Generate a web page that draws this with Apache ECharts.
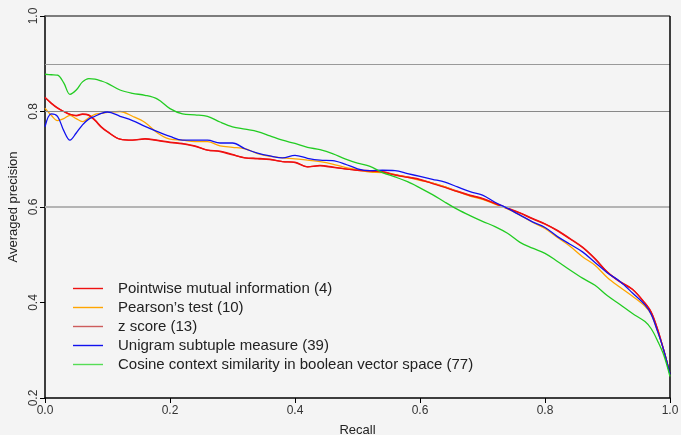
<!DOCTYPE html>
<html>
<head>
<meta charset="utf-8">
<script src="https://cdn.jsdelivr.net/npm/echarts@6/dist/echarts.min.js"></script>
<style>
html,body{margin:0;padding:0;background:#f4f4f4;}
#chart{width:681px;height:435px;}
</style>
</head>
<body>
<div id="chart"></div>
<script>
var recall = [0,0.01,0.02,0.03,0.04,0.05,0.06,0.07,0.08,0.09,0.10,
  0.12,0.14,0.16,0.18,0.20,0.22,0.24,0.26,0.28,0.30,0.32,0.34,0.36,0.38,0.40,
  0.42,0.44,0.46,0.48,0.50,0.52,0.54,0.56,0.58,0.60,0.62,0.64,0.66,0.68,0.70,
  0.72,0.74,0.76,0.78,0.80,0.82,0.84,0.86,0.88,0.90,0.92,0.94,0.96,0.97,0.98,0.99,1.0];

var pmi = [0.830,0.818,0.808,0.800,0.794,0.792,0.795,0.793,0.782,0.768,0.758,
  0.742,0.740,0.743,0.740,0.736,0.733,0.728,0.719,0.717,0.710,0.703,0.702,0.700,0.695,0.694,
  0.684,0.687,0.684,0.680,0.677,0.676,0.674,0.668,0.663,0.658,0.650,0.642,0.633,0.625,0.618,
  0.608,0.598,0.588,0.576,0.565,0.551,0.534,0.516,0.492,0.464,0.444,0.428,0.399,0.380,0.345,0.300,0.250];

var pearson = [0.807,0.792,0.781,0.785,0.792,0.785,0.779,0.787,0.794,0.796,0.798,
  0.800,0.790,0.777,0.755,0.742,0.740,0.737,0.737,0.728,0.725,0.722,0.712,0.706,0.703,0.701,
  0.698,0.695,0.690,0.683,0.678,0.673,0.672,0.668,0.662,0.656,0.650,0.642,0.632,0.623,0.616,
  0.606,0.596,0.583,0.568,0.555,0.536,0.518,0.496,0.478,0.452,0.432,0.413,0.392,0.375,0.340,0.300,0.250];

var zscore = [0.829,0.817,0.807,0.800,0.794,0.791,0.794,0.792,0.781,0.767,0.757,
  0.742,0.740,0.742,0.739,0.735,0.732,0.727,0.719,0.716,0.709,0.703,0.701,0.699,0.695,0.693,
  0.684,0.686,0.683,0.680,0.677,0.675,0.673,0.667,0.662,0.657,0.649,0.641,0.632,0.624,0.617,
  0.607,0.597,0.587,0.575,0.564,0.550,0.533,0.515,0.491,0.463,0.443,0.427,0.398,0.379,0.344,0.300,0.250];

var unigram = [0.768,0.795,0.790,0.760,0.740,0.755,0.772,0.784,0.790,0.796,0.799,
  0.790,0.781,0.769,0.758,0.748,0.740,0.740,0.740,0.734,0.734,0.722,0.713,0.707,0.703,0.708,
  0.702,0.698,0.697,0.690,0.680,0.676,0.677,0.676,0.670,0.664,0.658,0.652,0.642,0.632,0.625,
  0.610,0.597,0.583,0.569,0.557,0.538,0.522,0.506,0.484,0.462,0.444,0.420,0.395,0.375,0.340,0.300,0.250];

var cosine = [0.878,0.877,0.876,0.860,0.836,0.845,0.862,0.869,0.868,0.864,0.859,
  0.845,0.838,0.834,0.826,0.806,0.795,0.793,0.790,0.778,0.768,0.763,0.758,0.749,0.740,0.733,
  0.725,0.720,0.712,0.701,0.692,0.685,0.672,0.663,0.653,0.640,0.626,0.610,0.595,0.582,0.570,
  0.559,0.545,0.526,0.514,0.503,0.486,0.468,0.451,0.436,0.414,0.396,0.377,0.360,0.345,0.320,0.290,0.245];

var seriesNames = ["Pointwise mutual information (4)","Pearson\u2019s test (10)","z score (13)","Unigram subtuple measure (39)","Cosine context similarity in boolean vector space (77)"];
var seriesColors = ["#ee1111","#ffa500","#ee1111","#1111ee","#22cc22"];
var legendColors = ["#ee1111","#ffa500","#cd5c5c","#1111ee","#55dd55"];
var seriesValues = [pmi, pearson, zscore, unigram, cosine];
var refLines = [1.0, 0.9, 0.8, 0.6];
var refColors = ["#555555","#999999","#888888","#b4b4b4"];
var refWidths = [1.5, 1.2, 1.2, 2];

function pairs(vals){ return recall.map(function(r,i){ return [r, vals[i]]; }); }

var series = [{
  type:'line', data:[], silent:true, z:1,
  markLine:{ silent:true, symbol:'none', label:{show:false},
    data: refLines.map(function(v,i){ return {yAxis:v, lineStyle:{color:refColors[i], width:refWidths[i], type:'solid'}}; })
      .concat([{xAxis:1, lineStyle:{color:'#000', width:1.5, type:'solid'}}])
  }
}];
var order = [4,3,1,2,0];
order.forEach(function(k){
  series.push({
    name: seriesNames[k], type:'line', data: pairs(seriesValues[k]),
    symbol:'none', smooth:0.35, z:2+k,
    lineStyle:{color:seriesColors[k], width:1.3},
    itemStyle:{color:seriesColors[k]}
  });
});

var chart = echarts.init(document.getElementById('chart'));
chart.setOption({
  backgroundColor:'#f4f4f4',
  animation:false,
  grid:{left:45,right:11,top:16,bottom:37,containLabel:false,outerBoundsMode:'none'},
  legend:{
    orient:'vertical', left:68, top:276, padding:5, itemWidth:30, itemHeight:13, itemGap:4,
    textStyle:{fontFamily:'Liberation Sans, Arial', fontSize:15, color:'#222', padding:[0,0,0,10]},
    data: seriesNames.map(function(n,i){ return {name:n, icon:'path://M0,0H30V1.4H0Z', itemStyle:{color:legendColors[i]}}; })
  },
  xAxis:{
    type:'value', min:0, max:1, interval:0.2,
    name:'Recall', nameLocation:'middle', nameGap:26,
    nameTextStyle:{fontFamily:'Liberation Sans, Arial', fontSize:13, color:'#222'},
    axisLine:{show:true, onZero:false, lineStyle:{color:'#000', width:1.5}},
    axisTick:{show:true, length:5, lineStyle:{color:'#000'}},
    axisLabel:{fontFamily:'Liberation Sans, Arial', fontSize:12, color:'#333', margin:7,
      formatter:function(v){ return v.toFixed(1); }},
    splitLine:{show:false}
  },
  yAxis:{
    type:'value', min:0.2, max:1.0, interval:0.2,
    name:'Averaged precision', nameLocation:'middle', nameGap:22,
    nameTextStyle:{fontFamily:'Liberation Sans, Arial', fontSize:13, color:'#222'},
    axisLine:{show:true, onZero:false, lineStyle:{color:'#000', width:1.5}},
    axisTick:{show:true, length:5, lineStyle:{color:'#000'}},
    axisLabel:{fontFamily:'Liberation Sans, Arial', fontSize:12, color:'#333', rotate:90, margin:5,
      formatter:function(v){ return v.toFixed(1); }},
    splitLine:{show:false}
  },
  series: series
});
</script>
</body>
</html>
